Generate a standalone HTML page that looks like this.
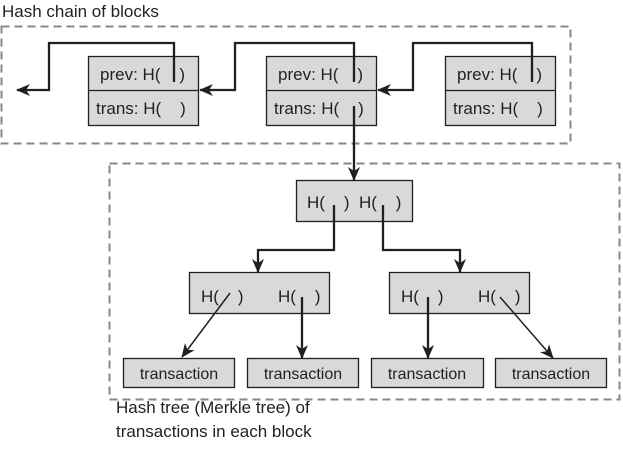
<!DOCTYPE html>
<html><head><style>body{margin:0;background:#fff}svg{display:block}text{font-family:"Liberation Sans",sans-serif;fill:#231f20;white-space:pre}</style></head><body>
<svg width="623" height="453" viewBox="0 0 623 453" xmlns="http://www.w3.org/2000/svg" xml:space="preserve">
<defs><marker id="b" markerWidth="14" markerHeight="12" refX="13" refY="6" orient="auto" markerUnits="userSpaceOnUse"><path d="M0,0 L14,6 L0,12 L4,6 z" fill="#231f20"/></marker></defs>
<text x="2" y="17" font-size="17">Hash chain of blocks</text>
<rect x="1.5" y="26.5" width="569" height="117" fill="none" stroke="#888" stroke-width="2" stroke-dasharray="8,5"/>
<rect x="109.5" y="163.5" width="510" height="236" fill="none" stroke="#888" stroke-width="2" stroke-dasharray="8,5"/>
<g stroke="#231f20" stroke-width="1.3" fill="#d9d9d9">
<rect x="88.5" y="56.5" width="110" height="69"/><line x1="88" y1="90.5" x2="199" y2="90.5"/>
<rect x="266.5" y="56.5" width="110" height="69"/><line x1="266" y1="90.5" x2="377" y2="90.5"/>
<rect x="445.5" y="56.5" width="110" height="69"/><line x1="445" y1="90.5" x2="556" y2="90.5"/>
<rect x="296.5" y="180.5" width="116" height="41"/>
<rect x="189.5" y="272.5" width="140" height="41"/>
<rect x="389.5" y="272.5" width="140" height="41"/>
<rect x="123.5" y="358.5" width="111" height="29"/>
<rect x="247.5" y="358.5" width="111" height="29"/>
<rect x="371.5" y="358.5" width="112" height="29"/>
<rect x="495.5" y="358.5" width="111" height="29"/>
</g>
<g font-size="17">
<text x="100" y="80">prev: H(    )</text><text x="96" y="114">trans: H(    )</text>
<text x="278" y="80">prev: H(    )</text><text x="274" y="114">trans: H(    )</text>
<text x="457" y="80">prev: H(    )</text><text x="453" y="114">trans: H(    )</text>
<text x="307" y="208">H(    )  H(    )</text>
<text x="201" y="302">H(    )</text><text x="278" y="302">H(    )</text>
<text x="401" y="302">H(    )</text><text x="478" y="302">H(    )</text>
</g>
<g font-size="16" text-anchor="middle">
<text x="179" y="379">transaction</text><text x="303" y="379">transaction</text>
<text x="427" y="379">transaction</text><text x="551" y="379">transaction</text>
</g>
<text x="116" y="413" font-size="17">Hash tree (Merkle tree) of</text>
<text x="116" y="437" font-size="17">transactions in each block</text>
<g fill="none" stroke="#231f20" stroke-width="2.3">
<polyline points="174,82 174,43 49,43 49,90 17,90" marker-end="url(#b)"/>
<polyline points="354,82 354,43 235,43 235,90 200,90" marker-end="url(#b)"/>
<polyline points="532,82 532,43 413,43 413,90 378,90" marker-end="url(#b)"/>
<polyline points="354,106 354,180" marker-end="url(#b)"/>
<polyline points="334,205 334,250 258,250 258,272" marker-end="url(#b)"/>
<polyline points="383,205 383,250 460,250 460,272" marker-end="url(#b)"/>
<line x1="302" y1="297" x2="302" y2="358" marker-end="url(#b)"/>
<line x1="428" y1="297" x2="428" y2="358" marker-end="url(#b)"/>
</g>
<g stroke="#231f20" stroke-width="1.5">
<line x1="230" y1="293" x2="182" y2="357" marker-end="url(#b)"/>
<line x1="500" y1="297" x2="553" y2="358" marker-end="url(#b)"/>
</g>
</svg>
</body></html>
